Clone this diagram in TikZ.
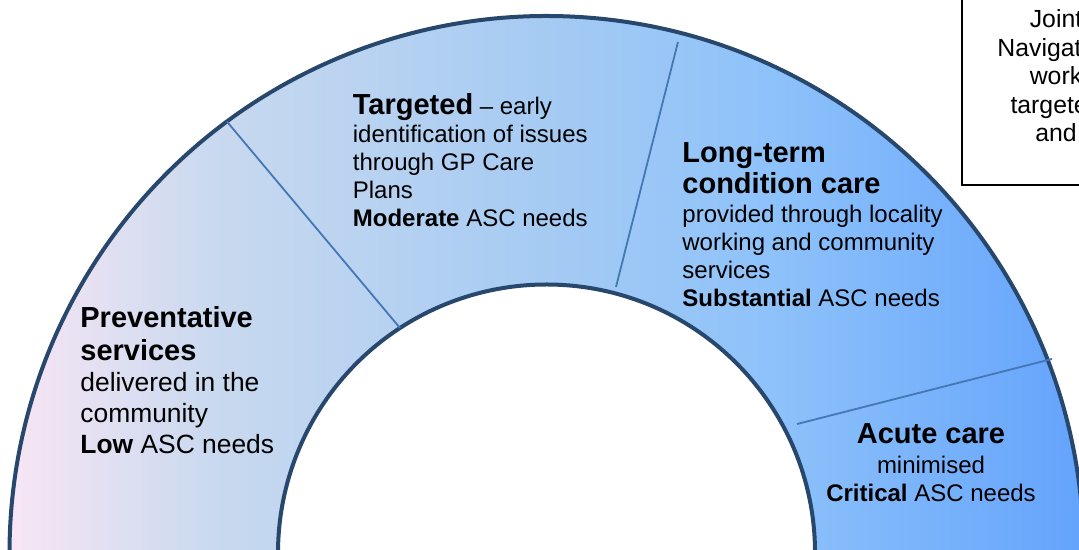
\documentclass[tikz,border=0pt]{standalone}
\usepackage{fontspec}
\setmainfont{Liberation Sans}
\usetikzlibrary{scopes}
\definecolor{arcpink}{HTML}{F9E6F5}
\definecolor{arcmist}{HTML}{C9D9EF}
\definecolor{arcsky}{HTML}{A6CBF3}
\definecolor{arclight}{HTML}{8EC2FA}
\definecolor{arcblue}{HTML}{62A2FC}
\definecolor{rimblue}{HTML}{28476C}
\definecolor{spokeblue}{HTML}{4477B4}
\pgfdeclarehorizontalshading{carearc}{100bp}{color(0bp)=(arcpink); color(25bp)=(arcpink);
    color(34.6bp)=(arcmist); color(49.5bp)=(arcsky); color(60bp)=(arclight);
    color(75bp)=(arcblue); color(100bp)=(arcblue)}
\tikzset{
    rim/.style={draw=rimblue, line width=2pt},
    spoke/.style={draw=spokeblue, line width=0.9pt},
    % anchored on the baseline of the last line
    blurb/.style={inner sep=0pt, align=left, anchor=base west, font=\fontsize{12}{14}\selectfont},
    notebox/.style={draw=black, line width=0.6pt}
}
\newcommand{\hd}[1]{{\fontsize{14.5}{16.5}\selectfont\bfseries #1}}

\begin{document}
\begin{tikzpicture}[x=0.5pt, y=0.5pt]
    \useasboundingbox (0,0) rectangle (1079,550);
    \coordinate (hub) at (546.5,-3);
    %arc
    \path[shading=carearc] ([shift={(-3:537)}]hub) arc[start angle=-3, end angle=183, radius=537]
        -- ([shift={(183:268.5)}]hub) arc[start angle=183, end angle=-3, radius=268.5] -- cycle;
    \draw[rim] ([shift={(-3:537)}]hub) arc[start angle=-3, end angle=183, radius=537];
    \draw[rim] ([shift={(-3:268.5)}]hub) arc[start angle=-3, end angle=183, radius=268.5];
    %spokes
    \draw[spoke] ([shift={(123.07:268.5)}]hub) -- ([shift={(126.53:537)}]hub);
    \draw[spoke] ([shift={(75.36:274.9)}]hub) -- ([shift={(75.57:527.6)}]hub);
    \draw[spoke] ([shift={(27.24:281.8)}]hub) -- ([shift={(21:541.4)}]hub);
    %blocks
    \node[blurb, font=\fontsize{13.2}{15.5}\selectfont] (prev) at (80,96)
        {\hd{Preventative}\\[1pt] \hd{services}\\ delivered in the\\ community\\ \textbf{Low} ASC needs};
    \node[blurb] (targ) at (352.5,323)
        {\hd{Targeted} -- early\\ identification of issues\\ through GP Care\\ Plans\\ \textbf{Moderate} ASC needs};
    \node[blurb] (ltc) at (682,243)
        {\hd{Long-term}\\[1.5pt] \hd{condition care}\\[0.5pt] provided through locality\\ working and community\\ services\\ \textbf{Substantial} ASC needs};
    \node[blurb, align=center, anchor=base] (acute) at (931,48)
        {\hd{Acute care}\\[1pt] minimised\\ \textbf{Critical} ASC needs};
    %note
    \draw[notebox] (962,365) rectangle (1110,560);
    \node[blurb, align=center, anchor=base, font=\fontsize{12.4}{14.25}\selectfont] (joint) at (1056,408)
        {Joint\\ Navigation\\ work\\ targeted\\ and};
\end{tikzpicture}
\end{document}
